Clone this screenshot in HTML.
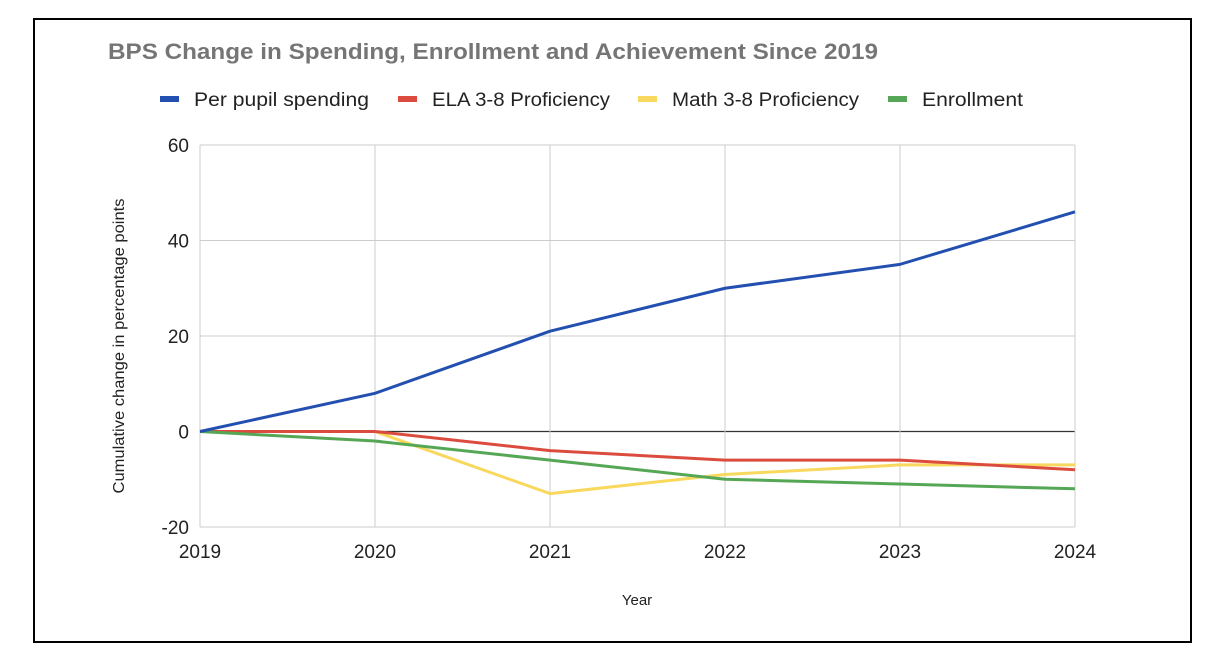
<!DOCTYPE html>
<html><head><meta charset="utf-8"><style>
body{margin:0;background:#fff;width:1224px;height:672px;overflow:hidden;font-family:"Liberation Sans",Arial,sans-serif}
#frame{position:absolute;left:33px;top:18px;width:1155px;height:621px;border:2px solid #000;box-sizing:content-box}
</style></head><body>
<div id="frame"></div>
<svg id="chart" width="1224" height="672" style="position:absolute;left:0;top:0" font-family="Liberation Sans, Arial, sans-serif">
<text x="108" y="59" font-size="22" font-weight="bold" fill="#757575" textLength="770" lengthAdjust="spacingAndGlyphs">BPS Change in Spending, Enrollment and Achievement Since 2019</text>
<g id="legend"></g>
<g id="grid"></g><g id="lines"></g><g id="labels"></g>
<text x="637" y="605" font-size="15" text-anchor="middle" fill="#222">Year</text>
<text transform="translate(124,346) rotate(-90)" font-size="16" text-anchor="middle" fill="#222" textLength="295" lengthAdjust="spacingAndGlyphs">Cumulative change in percentage points</text>
</svg>
<script>
const years=["2019","2020","2021","2022","2023","2024"];
const yTicks=[-20,0,20,40,60];
const spending=[0,8,21,30,35,46];
const ela=[0,0,-4,-6,-6,-8];
const math=[0,0,-13,-9,-7,-7];
const enrollment=[0,-2,-6,-10,-11,-12];
const seriesNames=["Per pupil spending","ELA 3-8 Proficiency","Math 3-8 Proficiency","Enrollment"];
const NS="http://www.w3.org/2000/svg";
const x0=200,x1=1075,yTop=145,yBot=527;
const xs=i=>x0+(x1-x0)*i/(years.length-1);
const ys=v=>yBot-(v+20)/80*(yBot-yTop);
function mk(tag,attrs,parent){const e=document.createElementNS(NS,tag);for(const k in attrs)e.setAttribute(k,attrs[k]);parent.appendChild(e);return e;}
const grid=document.getElementById('grid'),lines=document.getElementById('lines'),labels=document.getElementById('labels'),legend=document.getElementById('legend');
yTicks.forEach(t=>{
 const l=mk('line',{x1:x0,x2:x1,y1:ys(t),y2:ys(t),stroke:t===0?'#333':'#ccc','stroke-width':t===0?1.2:1},grid);
 
 
 const tx=mk('text',{x:189,y:ys(t)+7,'font-size':19,'text-anchor':'end',fill:'#222'},labels);
 tx.textContent=t;
 
 
});
years.forEach((y,i)=>{
 const l=mk('line',{x1:xs(i),x2:xs(i),y1:yTop,y2:yBot,stroke:'#ccc'},grid);
 
 
 const tx=mk('text',{x:xs(i),y:558,'font-size':19,'text-anchor':'middle',fill:'#222'},labels);
 tx.textContent=y;
 
 
});
const data=[spending,ela,math,enrollment];
const colors=["#2350b0","#db4c3f","#f9d85e","#55a755"];
const order=[2,1,3,0];
order.forEach(s=>{
 const p=mk('polyline',{points:data[s].map((v,i)=>xs(i)+','+ys(v)).join(' '),fill:'none',stroke:colors[s],'stroke-width':3,'stroke-linejoin':'round'},lines);
 
 
});
const legX=[160,398,638,888];
const legW=[175,178,187,101];
seriesNames.forEach((n,s)=>{
 const g=mk('g',{},legend);
 
 
 mk('rect',{x:legX[s],y:96,width:19,height:6,fill:colors[s]},g);
 const t=mk('text',{x:legX[s]+34,y:106,'font-size':19,fill:'#222',textLength:legW[s],lengthAdjust:'spacingAndGlyphs'},g);
 t.textContent=n;
});
</script>
</body></html>
